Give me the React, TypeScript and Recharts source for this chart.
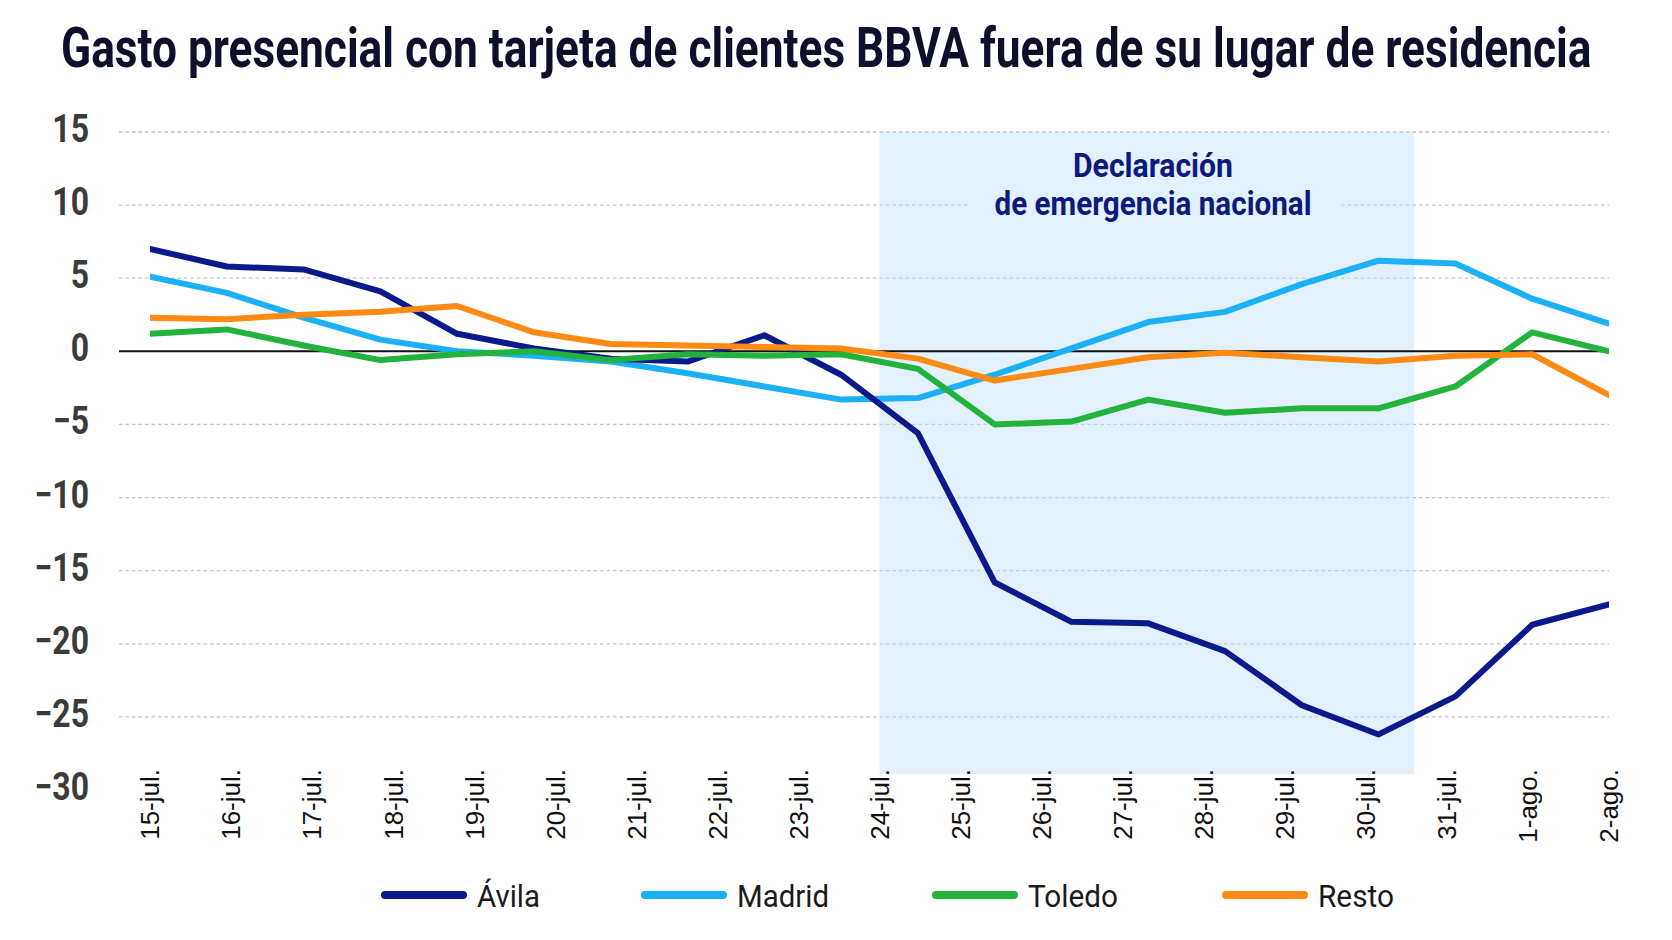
import React from 'react'
import { LineChart, Line, XAxis, YAxis, CartesianGrid, ReferenceArea, ReferenceLine } from 'recharts'

// 19 date labels on the axis, 20 observations spread evenly across them
const LABELS = [
  '15-jul.', '16-jul.', '17-jul.', '18-jul.', '19-jul.', '20-jul.', '21-jul.', '22-jul.', '23-jul.',
  '24-jul.', '25-jul.', '26-jul.', '27-jul.', '28-jul.', '29-jul.', '30-jul.', '31-jul.', '1-ago.', '2-ago.',
]
const POINTS = [0, 1, 2, 3, 4, 5, 6, 7, 8, 9, 10, 11, 12, 13, 14, 15, 16, 17, 18, 19]

const AVILA = [7.0, 5.8, 5.6, 4.1, 1.2, 0.2, -0.5, -0.7, 1.1, -1.6, -5.6, -15.8, -18.5, -18.6, -20.5, -24.2, -26.2, -23.6, -18.7, -17.3]
const MADRID = [5.1, 4.0, 2.3, 0.8, 0.0, -0.3, -0.7, -1.5, -2.4, -3.3, -3.2, -1.6, 0.2, 2.0, 2.7, 4.6, 6.2, 6.0, 3.6, 1.9]
const TOLEDO = [1.2, 1.5, 0.4, -0.6, -0.2, 0.0, -0.6, -0.2, -0.3, -0.2, -1.2, -5.0, -4.8, -3.3, -4.2, -3.9, -3.9, -2.4, 1.3, 0.0]
const RESTO = [2.3, 2.2, 2.5, 2.7, 3.1, 1.3, 0.5, 0.4, 0.3, 0.2, -0.5, -2.0, -1.2, -0.4, -0.1, -0.4, -0.7, -0.3, -0.2, -3.0]

const Y_TICKS = [-30, -25, -20, -15, -10, -5, 0, 5, 10, 15]
const GRID_VALUES = [-25, -20, -15, -10, -5, 5, 10, 15]

// emergency period, in axis label units
const SHADE_FROM = 9
const SHADE_TO = 15.6
const SHADE_BOTTOM = -28.9

const SERIES = [
  { key: 'avila', name: 'Ávila', color: '#0a1a8a', width: 63 },
  { key: 'madrid', name: 'Madrid', color: '#1cb0f6', width: 92 },
  { key: 'toledo', name: 'Toledo', color: '#23b23b', width: 90 },
  { key: 'resto', name: 'Resto', color: '#fd8a14', width: 76 },
]
const DRAW_ORDER = ['madrid', 'avila', 'toledo', 'resto']

const data = POINTS.map((t, i) => ({
  t,
  avila: AVILA[i],
  madrid: MADRID[i],
  toledo: TOLEDO[i],
  resto: RESTO[i],
}))

const FONT = 'Roboto, "Liberation Sans", Arial, sans-serif'

function YTick(props: any) {
  const { x, y, payload } = props
  const label = String(payload.value).replace('-', '\u2212')
  return (
    <text
      transform={`translate(${x},${y - 4}) scale(0.82,1)`}
      textAnchor="end"
      dy={14}
      fontFamily={FONT}
      fontWeight={700}
      fontSize={39}
      fill="#3b3b3b"
    >
      {label}
    </text>
  )
}

function XTick(props: any) {
  const { x, y, payload } = props
  return (
    <text
      transform={`translate(${x},${y - 21}) rotate(-90)`}
      textAnchor="end"
      dy="0.36em"
      fontFamily='"Liberation Sans", Arial, sans-serif'
      fontSize={26}
      fill="#111"
    >
      {LABELS[payload.value]}
    </text>
  )
}

const LEGEND_X = [385, 645, 936, 1226]

export default function App() {
  return (
    <div style={{ position: 'absolute', left: 0, top: 0, width: 1672, height: 940, background: '#fff' }}>
      <LineChart
        width={1672}
        height={940}
        data={data}
        margin={{ top: 132, right: 63, bottom: 90, left: 0 }}
      >
        <ReferenceArea
          xAxisId="labels"
          x1={SHADE_FROM}
          x2={SHADE_TO}
          y1={SHADE_BOTTOM}
          y2={15}
          fill="#bfe0f8"
          fillOpacity={0.45}
          stroke="none"
        />
        <CartesianGrid
          xAxisId="labels"
          vertical={false}
          horizontalValues={GRID_VALUES}
          stroke="#c4c4c4"
          strokeWidth={1.3}
          strokeDasharray="3.5 3"
        />
        <XAxis
          xAxisId="labels"
          dataKey="lbl"
          type="number"
          domain={[0, LABELS.length - 1]}
          ticks={LABELS.map((_, i) => i)}
          interval={0}
          allowDataOverflow
          padding={{ left: 31, right: 0 }}
          axisLine={false}
          tickLine={false}
          tickSize={0}
          tickMargin={0}
          height={60}
          tick={<XTick />}
        />
        <XAxis
          xAxisId="pts"
          dataKey="t"
          type="number"
          domain={[0, POINTS.length - 1]}
          allowDataOverflow
          padding={{ left: 31, right: 0 }}
          hide
        />
        <YAxis
          type="number"
          domain={[-30, 15]}
          ticks={Y_TICKS}
          interval={0}
          allowDataOverflow
          width={119}
          axisLine={false}
          tickLine={false}
          tickSize={0}
          tickMargin={30}
          tick={<YTick />}
        />
        <ReferenceLine xAxisId="labels" y={0} stroke="#111" strokeWidth={2} />
        {DRAW_ORDER.map((k) => {
          const s = SERIES.find((d) => d.key === k)!
          return (
            <Line
              key={s.key}
              xAxisId="pts"
              type="linear"
              dataKey={s.key}
              name={s.name}
              stroke={s.color}
              strokeWidth={6}
              strokeLinecap="round"
              strokeLinejoin="round"
              dot={false}
              activeDot={false}
              isAnimationActive={false}
            />
          )
        })}
      </LineChart>

      <svg
        width={1672}
        height={940}
        style={{ position: 'absolute', left: 0, top: 0, pointerEvents: 'none' }}
      >
        <text
          transform="translate(61,67) scale(0.79,1)"
          fontFamily={FONT}
          fontWeight={700}
          fontSize={56}
          fill="#0e0f2a"
        >
          Gasto presencial con tarjeta de clientes BBVA fuera de su lugar de residencia
        </text>

        <rect x={970} y={140} width={368} height={86} fill="#e2f1fc" />
        <text
          x={1153}
          y={177}
          textAnchor="middle"
          fontFamily={FONT}
          fontWeight={700}
          fontSize={33}
          fill="#0c1a7e"
          textLength={160}
          lengthAdjust="spacingAndGlyphs"
        >
          Declaración
        </text>
        <text
          x={1153}
          y={215}
          textAnchor="middle"
          fontFamily={FONT}
          fontWeight={700}
          fontSize={33}
          fill="#0c1a7e"
          textLength={317}
          lengthAdjust="spacingAndGlyphs"
        >
          de emergencia nacional
        </text>

        {SERIES.map((s, i) => (
          <g key={s.key}>
            <line
              x1={LEGEND_X[i]}
              x2={LEGEND_X[i] + 78}
              y1={895}
              y2={895}
              stroke={s.color}
              strokeWidth={8}
              strokeLinecap="round"
            />
            <text
              x={LEGEND_X[i] + 92}
              y={907}
              fontFamily={FONT}
              fontSize={31}
              fill="#1a1a1a"
              textLength={s.width}
              lengthAdjust="spacingAndGlyphs"
            >
              {s.name}
            </text>
          </g>
        ))}
      </svg>
    </div>
  )
}
